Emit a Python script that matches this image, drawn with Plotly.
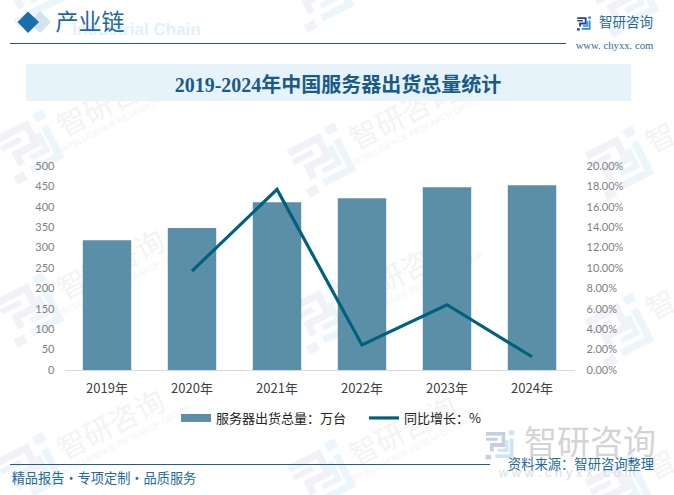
import math
import plotly.graph_objects as go

W, H = 674, 495

years = ["2019年", "2020年", "2021年", "2022年", "2023年", "2024年"]
shipments = [318, 348, 411, 421, 448, 453]
growth = [None, 9.7, 17.7, 2.45, 6.4, 1.3]
bar_name = "服务器出货总量：万台"
line_name = "同比增长：%"
left_ticks = [0, 50, 100, 150, 200, 250, 300, 350, 400, 450, 500]
right_ticks = [0, 2, 4, 6, 8, 10, 12, 14, 16, 18, 20]
right_labels = [f"{v:.2f}%" for v in right_ticks]
chart_title = "2019-2024年中国服务器出货总量统计"

CJK = "Noto Sans CJK SC"
SERIF = "'Liberation Serif','Noto Sans CJK SC'"
BLUE = "#1f6a9c"
NAVY = "#1b5f8c"


def px(x):
    return x / W


def py(y):
    return 1 - y / H


shapes = []
annos = []


def rect(x0, y0, x1, y1, color, layer="below"):
    shapes.append(dict(type="rect", xref="paper", yref="paper", x0=px(x0), x1=px(x1),
                       y0=py(y0), y1=py(y1), fillcolor=color, line_width=0, layer=layer))


def hline(x0, x1, y, color, w=1.2):
    shapes.append(dict(type="line", xref="paper", yref="paper", x0=px(x0), x1=px(x1),
                       y0=py(y), y1=py(y), line=dict(color=color, width=w), layer="below"))


def poly(points, color, close=True):
    d = "M" + " L".join(f"{px(a):.5f},{py(b):.5f}" for a, b in points) + (" Z" if close else "")
    shapes.append(dict(type="path", xref="paper", yref="paper", path=d, fillcolor=color,
                       line_width=0, layer="below"))


def stroke(points, color, w):
    d = "M" + " L".join(f"{px(a):.5f},{py(b):.5f}" for a, b in points)
    shapes.append(dict(type="path", xref="paper", yref="paper", path=d,
                       line=dict(color=color, width=w), layer="below"))


def label(x, y, text, size, color, family=CJK, angle=0):
    """Text drawn beneath the traces, as the label of an empty shape."""
    shapes.append(dict(type="rect", xref="paper", yref="paper", x0=px(x - 1), x1=px(x + 1),
                       y0=py(y + 1), y1=py(y - 1), line_width=0, fillcolor="rgba(0,0,0,0)",
                       layer="below",
                       label=dict(text=text, textangle=angle, textposition="middle center",
                                  font=dict(size=size, color=color, family=family))))


def logo(cx, cy, size, angle, c1, c2):
    a = math.radians(angle)

    def t(u, v):
        xx, yy = (u - 0.5) * size, (v - 0.5) * size
        return (cx + xx * math.cos(a) - yy * math.sin(a), cy + xx * math.sin(a) + yy * math.cos(a))

    w = size * 0.13
    stroke([t(0.02, 0.12), t(0.62, 0.12), t(0.62, 0.5), t(0.22, 0.5), t(0.22, 0.72)], c1, w)
    stroke([t(0.02, 0.3), t(0.42, 0.3)], c1, w * 0.8)
    poly([t(0.0, 0.84), t(0.2, 0.84), t(0.2, 1.0), t(0.0, 1.0)], c1)
    poly([t(0.8, 0.0), t(1.0, 0.0), t(1.0, 0.16), t(0.8, 0.16)], c2)
    stroke([t(0.9, 0.28), t(0.9, 0.88), t(0.34, 0.88)], c2, w)
    stroke([t(0.74, 0.34), t(0.74, 0.68), t(0.42, 0.68)], c2, w * 0.8)


# tiled watermark
WM_ANGLE = -27
WM1, WM2, WMT = "#f0f2f7", "#ecf5fa", "#f3f3f3"
top_logos = [(30, -10), (320, -5), (625, 0)]
full_logos = [(30, 147), (322, 160), (30, 310), (322, 317), (30, 470), (322, 476)]
right_logos = [(620, 163), (620, 330), (620, 490)]
for lx, ly in top_logos:
    logo(lx, ly, 56, WM_ANGLE, WM1, WM2)
for lx, ly in full_logos:
    logo(lx, ly, 56, WM_ANGLE, WM1, WM2)
    label(lx + 82, ly - 43, "智研咨询", 29, WMT, CJK, WM_ANGLE)
    label(lx + 95, ly - 30, "INTELLIGENCE RESEARCH GROUP", 8.5, WMT, "Liberation Sans", WM_ANGLE)
for lx, ly in right_logos:
    logo(lx, ly, 56, WM_ANGLE, WM1, WM2)
    label(lx + 42, ly - 23, "智", 29, WMT, CJK, WM_ANGLE)

# header
poly([(40, 11), (51, 22), (40, 33), (29, 22)], "#d0e3ee")
poly([(28, 11.5), (39, 22), (28, 33), (17.5, 22)], "#1770ac")
label(136.5, 27, "<b>Industrial Chain</b>", 17, "#e3f0fa", "Liberation Sans")
label(90, 24, "产业链", 23, BLUE, CJK)
hline(10, 566, 43.5, NAVY)
rect(26, 64, 631, 101, "#e6f3fb")

# top right brand
logo(584, 23.5, 14, 0, "#23408e", "#2a8fd0")
label(626, 23, "智研咨询", 13.5, BLUE, CJK)
label(614.5, 44, "www. chyxx. com", 10.7, "#2b6c9c", "Liberation Serif")

# footer
hline(10, 490, 464.5, NAVY)
logo(500, 445, 29, 0, "#c6d0e2", "#cfe4f2")
label(590, 445, "智研咨询", 33, "#d4d4d4", CJK)
label(567, 471, "w w w . c h y x x . c o m", 13, "#dedede", "Liberation Sans")
label(581, 465, "资料来源：智研咨询整理", 13.3, BLUE, CJK)
label(104, 479, "精品报告・专项定制・品质服务", 13.2, BLUE, CJK)

fig = go.Figure()
fig.add_trace(go.Bar(x=years, y=shipments, name=bar_name, marker=dict(color="#5b8fa8", line_width=0),
                     width=0.57, showlegend=False, yaxis="y"))
# legend key for the bars: a wide band, as in the reference
fig.add_trace(go.Scatter(x=[years[0]], y=[None], name=bar_name, mode="lines",
                         line=dict(color="#5b8fa8", width=8), yaxis="y"))
fig.add_trace(go.Scatter(x=years, y=growth, name=line_name, mode="lines", yaxis="y2",
                         line=dict(color="#00617f", width=3.2), connectgaps=False))

tick_font = dict(family="Lato,'Open Sans',sans-serif", size=11, color="#7f7f7f")
fig.update_layout(
    width=W, height=H, autosize=False, margin=dict(l=0, r=0, t=0, b=0, autoexpand=False),
    paper_bgcolor="white", plot_bgcolor="rgba(0,0,0,0)",
    title=dict(text=f"<b>{chart_title}</b>", x=338 / W, xanchor="center", y=py(85), yanchor="middle",
               font=dict(family=SERIF, size=20, color="#1b5a85")),
    xaxis=dict(domain=[px(64.5), px(574.5)], categoryorder="array", categoryarray=years,
               showgrid=False, showline=True, linecolor="#d9d9d9", linewidth=1, ticks="",
               tickfont=dict(family=CJK, size=13, color="#404040"), ticklabelstandoff=6,
               range=[-0.5, 5.5], fixedrange=True),
    yaxis=dict(domain=[py(370), py(166)], range=[0, 500], tickvals=left_ticks, showgrid=False,
               zeroline=False, showline=False, ticks="", tickfont=tick_font, ticklabelstandoff=9),
    yaxis2=dict(overlaying="y", side="right", range=[0, 20], tickvals=right_ticks, ticktext=right_labels,
                showgrid=False, zeroline=False, showline=False, ticks="", tickfont=tick_font,
                ticklabelstandoff=11),
    legend=dict(orientation="h", x=px(176), xanchor="left", y=py(418), yanchor="middle",
                bgcolor="rgba(0,0,0,0)", font=dict(family=CJK, size=13, color="#222222"),
                itemwidth=30, entrywidth=143, entrywidthmode="pixels", tracegroupgap=0),
    shapes=shapes, annotations=annos, showlegend=True,
)

fig.write_html("out.html", post_script="document.body.style.margin='0';document.body.style.overflow='hidden';",
               config=dict(displayModeBar=False))
